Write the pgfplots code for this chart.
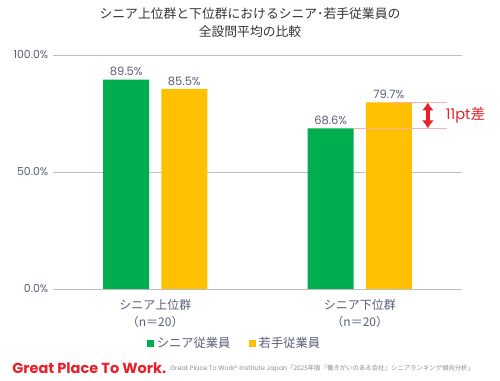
\documentclass[border=0pt]{standalone}
\usepackage{fontspec}
\setmainfont{Noto Sans CJK JP}
\newfontfamily\pop{Poppins}
\usepackage{pgfplots}
\usetikzlibrary{arrows.meta}
\pgfplotsset{compat=1.18}
\definecolor{gpgreen}{HTML}{00AD4F}
\definecolor{gporange}{HTML}{FFC000}
\definecolor{txt}{HTML}{595E78}
\definecolor{gpred}{HTML}{E8202A}
\definecolor{grid}{HTML}{E8E8EE}
\begin{document}
\begin{tikzpicture}[x=0.75pt,y=0.75pt]
\useasboundingbox (0,0) rectangle (500,381);
\begin{axis}[
  at={(39.75pt,69pt)}, anchor=south west,
  scale only axis, width=306.75pt, height=175.5pt,
  xmin=-0.5, xmax=1.5, ymin=0, ymax=100,
  axis line style={draw=none},
  /pgf/number format/assume math mode=true,
  ytick={0,50,100},
  yticklabels={0.0\%,50.0\%,100.0\%},
  yticklabel style={font=\pop\fontsize{8.2}{9}\selectfont, text=txt},
  ymajorgrids, xmajorgrids=false, grid style={grid, line width=0.6pt},
  major tick length=0pt, tick style={draw=none},
  xtick={0,1},
  xticklabels={シニア上位群\\（n＝20）, シニア下位群\\（n＝20）},
  xticklabel style={font=\fontsize{9}{12.5}\selectfont, text=txt, align=center, yshift=-4.5pt},
  ybar, bar width=0.225,
  nodes near coords={\pgfmathprintnumber[fixed,fixed zerofill,precision=1]{\pgfplotspointmeta}\%},
  nodes near coords style={font=\pop\fontsize{8.6}{10}\selectfont, text=txt, yshift=-1pt},
  legend style={at={(0.445,-0.231)}, anchor=center, draw=none, legend columns=2,
     font=\fontsize{9.2}{11}\selectfont, text=txt, /tikz/every even column/.append style={column sep=12pt}},
  legend image code/.code={\fill[#1] (0,-2.6pt) rectangle (5.2pt,2.6pt);},
  clip=false,
]
\addplot[fill=gpgreen, draw=none, bar shift=-0.142] coordinates {(0,89.5) (1,68.6)};
\addplot[fill=gporange, draw=none, bar shift=0.142] coordinates {(0,85.5) (1,79.7)};
\legend{シニア従業員, 若手従業員}
\draw[gpred!35, line width=0.6pt] (axis cs:0.971,68.6) -- (axis cs:1.426,68.6);
\draw[gpred!35, line width=0.6pt] (axis cs:1.142,79.7) -- (axis cs:1.426,79.7);
\draw[gpred, line width=2.6pt, {Latex[length=6pt,width=9pt]}-{Latex[length=6pt,width=9pt]}] (axis cs:1.333,68.6) -- (axis cs:1.333,79.7);
\node[anchor=west, text=gpred, font=\fontsize{11}{12}\selectfont, inner sep=0pt] at (axis cs:1.42,74.4) {{\pop 11pt}差};
\end{axis}
\node[font=\fontsize{9.6}{14}\selectfont, text=black!80, align=center] at (250,358.5) {シニア上位群と下位群におけるシニア･若手従業員の\\全設問平均の比較};
\node[anchor=west, inner sep=0pt, text=gpred, font=\pop\bfseries\fontsize{10.9}{12}\selectfont] at (12,13) {Great Place To Work.};
\node[anchor=west, inner sep=0pt, text=black!45, font=\fontsize{4.8}{5}\selectfont] at (170,12.5) {{\pop Great Place To Work® Institute Japan}「2025年版『働きがいのある会社』シニアランキング傾向分析」};
\end{tikzpicture}
\end{document}
